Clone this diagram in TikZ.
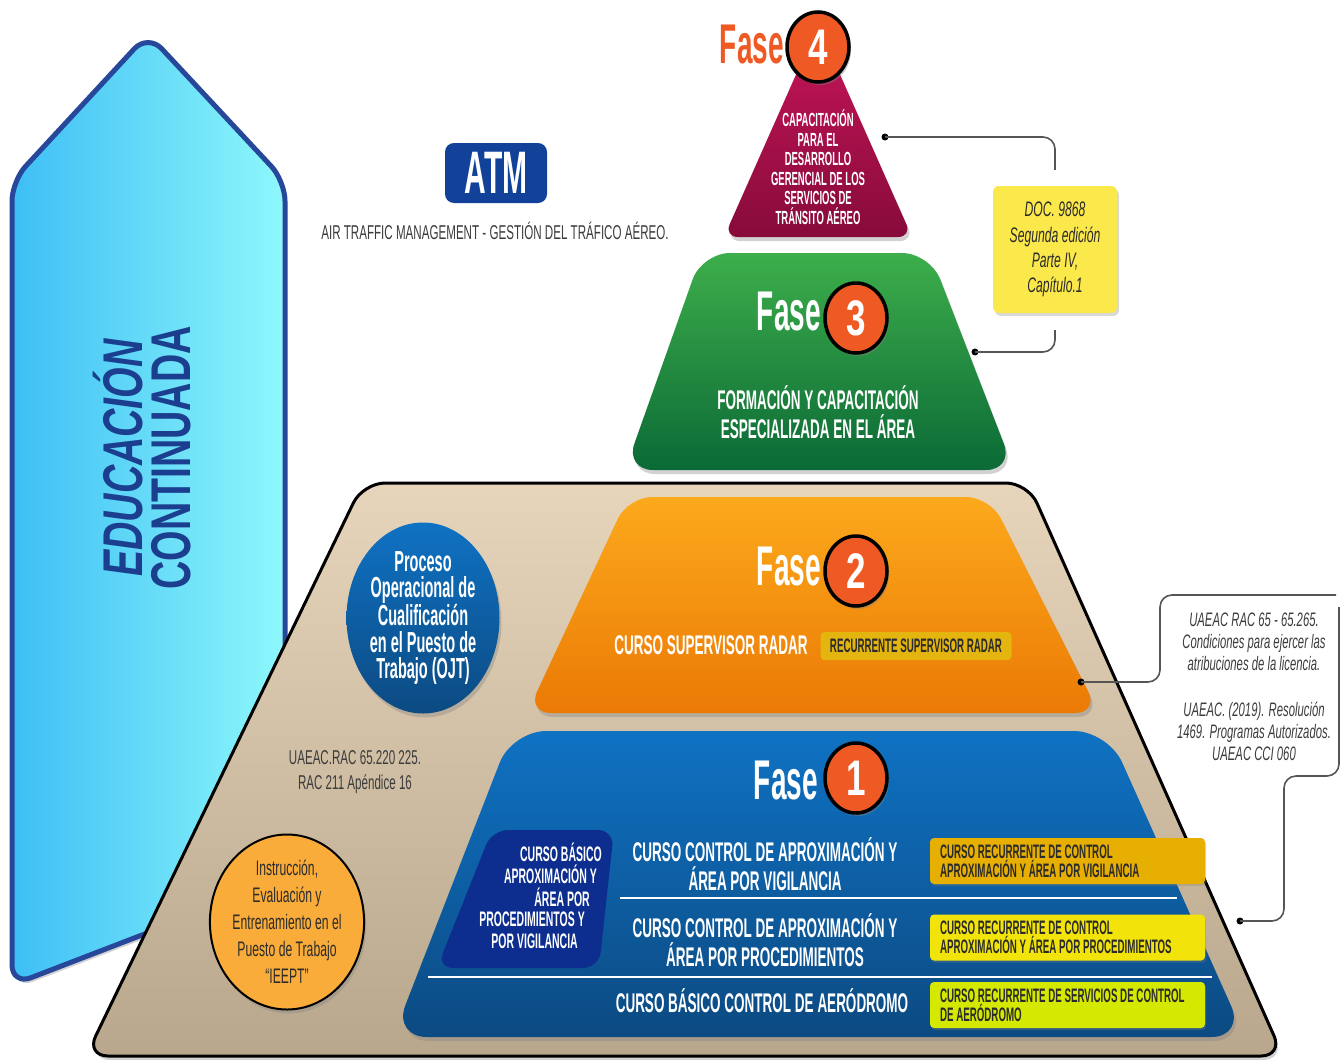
\documentclass[tikz,border=0pt]{standalone}
\usepackage{fontspec}
\newfontfamily\cfb[FakeStretch=0.5]{Liberation Sans}
\newfontfamily\cfl[FakeStretch=0.58]{Liberation Sans}
\newfontfamily\cfw[FakeStretch=0.7]{Liberation Sans}
\usetikzlibrary{shadows,shapes.geometric}
\definecolor{ecL}{HTML}{3DBEF5}
\definecolor{ecR}{HTML}{8EF8FB}
\definecolor{ecB}{HTML}{27479A}
\definecolor{ecT}{HTML}{1B3F8E}
\definecolor{beT}{HTML}{E6D5BB}
\definecolor{beB}{HTML}{B8A78C}
\definecolor{orT}{HTML}{FCA91C}
\definecolor{orB}{HTML}{EB7A05}
\definecolor{grT}{HTML}{3DAE4B}
\definecolor{grB}{HTML}{0B6A36}
\definecolor{crT}{HTML}{C8155A}
\definecolor{crB}{HTML}{870B3A}
\definecolor{blT}{HTML}{0F72C3}
\definecolor{blB}{HTML}{0C4A82}
\definecolor{dkb}{HTML}{0D2E8E}
\definecolor{numr}{HTML}{EF5A24}
\definecolor{atmb}{HTML}{12419A}
\definecolor{docy}{HTML}{FBE84A}
\definecolor{gold1}{HTML}{E6AF02}
\definecolor{yel2}{HTML}{F2E40A}
\definecolor{lime3}{HTML}{D5E900}
\definecolor{gold0}{HTML}{E4B50F}
\definecolor{ieep}{HTML}{F9AC3A}
\definecolor{txd}{HTML}{2B2B2B}
\definecolor{txg}{HTML}{3C3C3C}
\definecolor{lng}{HTML}{555555}
\begin{document}
\begin{tikzpicture}[x=1pt,y=-1pt,
  shd/.style={drop shadow={opacity=.35, shadow xshift=2pt, shadow yshift=-4pt}},
  hd/.style={text=white, align=center, inner sep=0, font={\cfb\bfseries\fontsize{27}{29}\selectfont}},
  fase/.style={text=white, inner sep=0, font={\cfb\bfseries\fontsize{56}{56}\selectfont}},
  numc/.style={ellipse, draw=black, line width=3.5, fill=numr, text=white, minimum width=62, minimum height=70, inner sep=0, font={\cfw\bfseries\fontsize{50}{50}\selectfont}, drop shadow={opacity=.4, shadow xshift=2pt, shadow yshift=-3pt}},
  small/.style={text=txd, font={\cfb\bfseries\fontsize{19.5}{19}\selectfont}},
  rbox/.style={small, rounded corners=4, minimum width=275, minimum height=46, text width=255, align=flush left, inner xsep=10, inner ysep=0, drop shadow={opacity=.3, shadow xshift=1pt, shadow yshift=-2pt}},
  bx/.style={text=white, inner sep=0, font={\cfb\bfseries\fontsize{21}{21}\selectfont}},
  refi/.style={text=txg, align=center, inner sep=0, font={\cfl\itshape\fontsize{19.5}{22}\selectfont}},
  refu/.style={text=txg, align=center, inner sep=0, font={\cfl\fontsize{20}{25}\selectfont}},
  conn/.style={draw=lng, line width=1.6},
  dotc/.style={circle, fill=black, inner sep=0, minimum size=7},
  wline/.style={draw=white, line width=2.5}]
\useasboundingbox[fill=white] (0,0) rectangle (1343,1060);

% Educacion continuada
\path[shd, draw=ecB, line width=5, left color=ecL, right color=ecR, rounded corners=20]
  (148,34) -- (285,181) -- (285,880) -- (12,985) -- (12,181) -- cycle;
\node[rotate=90, text=ecT, align=center, inner sep=0, font={\cfw\bfseries\fontsize{56}{48}\selectfont}] (ect) at (142,458) {{\itshape EDUCACIÓN}\\CONTINUADA};

% beige pyramid
\path[shd, draw=black, line width=3, top color=beT, bottom color=beB, rounded corners=22]
  (363,483) -- (1028,483) -- (1283,1056) -- (86,1056) -- cycle;

% Fase 4 triangle
\path[shd, top color=crT, bottom color=crB, rounded corners=14]
  (818,25) -- (912,237) -- (724,237) -- cycle;
% Fase 3
\path[shd, top color=grT, bottom color=grB, rounded corners=28]
  (702,253) -- (930,253) -- (1014,470) -- (625,470) -- cycle;
% Fase 2
\path[shd, top color=orT, bottom color=orB, rounded corners=24]
  (628,497) -- (990,497) -- (1099,713) -- (527,713) -- cycle;
% Fase 1
\path[shd, top color=blT, bottom color=blB, rounded corners=34]
  (512,731) -- (1108,731) -- (1245,1037) -- (393,1037) -- cycle;
\path[fill=dkb, rounded corners=16]
  (492,830) -- (614,830) -- (599,968) -- (437,968) -- cycle;

% ATM
\node[fill=atmb, rounded corners=9, minimum width=102, minimum height=60, inner sep=0, text=white, font={\cfb\bfseries\fontsize{60}{60}\selectfont}] (atm) at (496,173) {ATM};
\node[refu] (atmcap) at (495,231) {AIR TRAFFIC MANAGEMENT - GESTIÓN DEL TRÁFICO AÉREO.};

% Fase 4
\node[fase, text=numr, anchor=east] (f4t) at (784,45) {Fase};
\node[numc] (n4) at (818,47) {4};
\node[text=white, align=center, inner sep=0, font={\cfb\bfseries\fontsize{19}{19.5}\selectfont}] (t4) at (818,167) {CAPACITACIÓN\\PARA EL\\DESARROLLO\\GERENCIAL DE LOS\\SERVICIOS DE\\TRÁNSITO AÉREO};

% DOC box and connectors
\node[fill=docy, rounded corners=6, minimum width=124, minimum height=127, inner sep=0, refi, font={\cfl\itshape\fontsize{21}{25.3}\selectfont}, text=txd, drop shadow={opacity=.3, shadow xshift=2pt, shadow yshift=-3pt}] (doc) at (1055,249.5) {DOC. 9868\\Segunda edición\\Parte IV,\\Capítulo.1};
\node[dotc] (d4) at (885,137) {};
\draw[conn, rounded corners=12, shorten >=16] (d4.center) -| (doc.north);
\node[dotc] (d3) at (975,352) {};
\draw[conn, rounded corners=12, shorten <=17] (doc.south) |- (d3.center);

% Fase 3
\node[fase, anchor=east] (f3t) at (821,312) {Fase};
\node[numc] (n3) at (856,318) {3};
\node[hd] (t3) at (818,412) {FORMACIÓN Y CAPACITACIÓN\\ESPECIALIZADA EN EL ÁREA};

% Fase 2
\node[fase, anchor=east] (f2t) at (821,567) {Fase};
\node[numc] (n2) at (856,571) {2};
\node[hd] (t2) at (711,645) {CURSO SUPERVISOR RADAR};
\node[small, fill=gold0, rounded corners=4, minimum width=191, minimum height=28, inner sep=0] (r0) at (916,646) {RECURRENTE SUPERVISOR RADAR};

% right references
\node[dotc] (d2) at (1081,682) {};
\coordinate (e2) at (1336,595);
\draw[conn, rounded corners=12] (d2.center) -- (1160,682) -- (1160,595) -- (e2);
\coordinate (e1) at (1339,607);
\node[dotc] (d1) at (1240,921) {};
\draw[conn, rounded corners=12] (e1) -- (1339,776) -- (1284,776) -- (1284,921) -- (d1.center);
\node[refi] (refs) at (1254,687) {UAEAC RAC 65 - 65.265.\\Condiciones para ejercer las\\atribuciones de la licencia.\\[24pt]UAEAC. (2019). Resolución\\1469. Programas Autorizados.\\UAEAC CCI 060};

% left circles
\node[ellipse, minimum width=153, minimum height=191, inner sep=0, top color=blT, bottom color=blB, text=white, align=center, font={\cfb\bfseries\fontsize{29}{26.5}\selectfont}, drop shadow={opacity=.35, shadow xshift=2pt, shadow yshift=-4pt}] (ojt) at (423,618) {Proceso\\Operacional de\\Cualificación\\en el Puesto de\\Trabajo (OJT)};
\node[refu] (uae) at (355,772) {UAEAC.RAC 65.220 225.\\RAC 211 Apéndice 16};
\node[ellipse, draw=black, line width=2, fill=ieep, minimum width=140, minimum height=175, inner sep=0, text=txd, align=center, font={\cfl\fontsize{21}{27}\selectfont}, drop shadow={opacity=.35, shadow xshift=2pt, shadow yshift=-4pt}] (ieept) at (287,922) {Instrucción,\\Evaluación y\\Entrenamiento en el\\Puesto de Trabajo\\“IEEPT”};

% Fase 1
\node[fase, anchor=east] (f1t) at (818,780) {Fase};
\node[numc] (n1) at (856,778) {1};
\node[bx, anchor=east] (b1) at (602,852) {CURSO BÁSICO};
\node[bx, anchor=east] (b2) at (597,874) {APROXIMACIÓN Y};
\node[bx, anchor=east] (b3) at (590,897) {ÁREA POR};
\node[bx, anchor=east] (b4) at (585,919) {PROCEDIMIENTOS Y};
\node[bx, anchor=east] (b5) at (578,941) {POR VIGILANCIA};
\node[hd] (c1) at (765,864) {CURSO CONTROL DE APROXIMACIÓN Y\\ÁREA POR VIGILANCIA};
\node[hd] (c2) at (765,940) {CURSO CONTROL DE APROXIMACIÓN Y\\ÁREA POR PROCEDIMIENTOS};
\node[hd] (c3) at (762,1001) {CURSO BÁSICO CONTROL DE AERÓDROMO};
\coordinate (w1a) at (620,898);
\coordinate (w1b) at (1177,898);
\coordinate (w2a) at (428,977);
\coordinate (w2b) at (1212,977);
\draw[wline] (w1a) -- (w1b);
\draw[wline] (w2a) -- (w2b);
\node[rbox, fill=gold1] (r1) at (1067.5,861) {CURSO RECURRENTE DE CONTROL\\APROXIMACIÓN Y ÁREA POR VIGILANCIA};
\node[rbox, fill=yel2] (r2) at (1067.5,937.5) {CURSO RECURRENTE DE CONTROL\\APROXIMACIÓN Y ÁREA POR PROCEDIMIENTOS};
\node[rbox, fill=lime3] (r3) at (1067.5,1005) {CURSO RECURRENTE DE SERVICIOS DE CONTROL\\DE AERÓDROMO};
\end{tikzpicture}
\end{document}
